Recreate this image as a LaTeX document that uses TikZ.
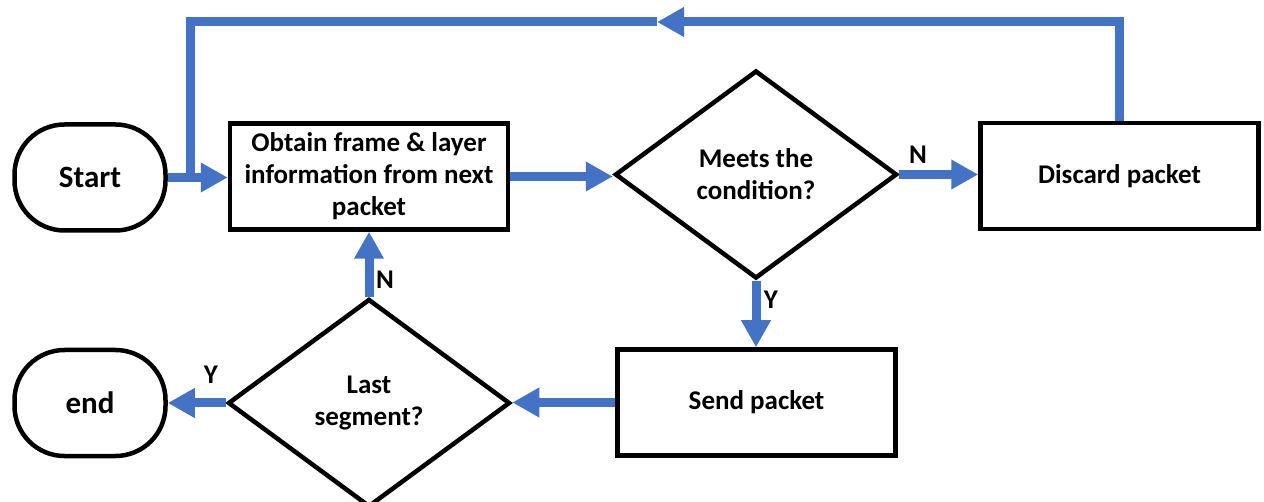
\documentclass[tikz,border=0pt]{standalone}
\usepackage{fontspec}
\setmainfont{Carlito}
\usetikzlibrary{shapes.geometric,arrows.meta}
\definecolor{flowblue}{HTML}{4472C4}
\begin{document}
\begin{tikzpicture}[x=1pt,y=-1pt,
  every node/.style={font=\fontsize{27}{32}\selectfont\bfseries},
  outline/.style={draw=black, line width=4.5pt, inner sep=0pt, align=center},
  terminal/.style={outline, rectangle, rounded corners=50pt, minimum width=151pt, minimum height=106pt,
                   font=\fontsize{31}{32}\selectfont\bfseries},
  process/.style={outline, rectangle, minimum width=278pt, minimum height=106pt},
  decision/.style={outline, diamond, aspect=1.4, line join=miter, minimum width=282pt, minimum height=208pt},
  flow/.style={draw=flowblue, line width=9pt, line join=miter, -{Triangle[length=27pt,width=28pt]}},
  plain/.style={draw=flowblue, line width=9pt, line join=miter},
  lbl/.style={inner sep=0pt}]
  \clip (0,0) rectangle (1264,502);

  % shapes
  \node[terminal] (start) at (90,177.5) {Start};
  \node[process] (obtain) at (369,176.5) {Obtain frame \& layer\\information from next\\packet};
  \node[decision] (cond) at (756,174.5) {Meets the\\condition?};
  \node[process] (discard) at (1119.5,176) {Discard packet};
  \node[process] (send) at (756.5,402.5) {Send packet};
  \node[decision] (last) at (369,403) {Last\\segment?};
  \node[terminal] (stop) at (90,403) {end};

  % return loop from the discard box
  \coordinate (ret) at (657,22);
  \coordinate (corner) at (190,22);
  \coordinate (join) at (190,177.5);

  % connectors
  \draw[flow] (start.east) -- (start.east -| obtain.west);
  \draw[flow] (discard.north) |- (ret);
  \draw[plain] (ret) -- (corner) -- (join);
  \draw[flow] (obtain.east) -- (obtain.east -| cond.west);
  \draw[flow] (cond.east) -- (cond.east -| discard.west);
  \draw[flow] (cond.south) -- (cond.south |- send.north);
  \draw[flow] (send.west) -- (send.west -| last.east);
  \draw[flow] (last.west) -- (last.west -| stop.east);
  \draw[flow] (last.north) -- (last.north |- obtain.south);

  % branch labels
  \node[lbl] (nA) at (918,155) {N};
  \node[lbl] (yA) at (771,300) {Y};
  \node[lbl] (nB) at (385,280) {N};
  \node[lbl] (yB) at (211,375) {Y};
\end{tikzpicture}
\end{document}
